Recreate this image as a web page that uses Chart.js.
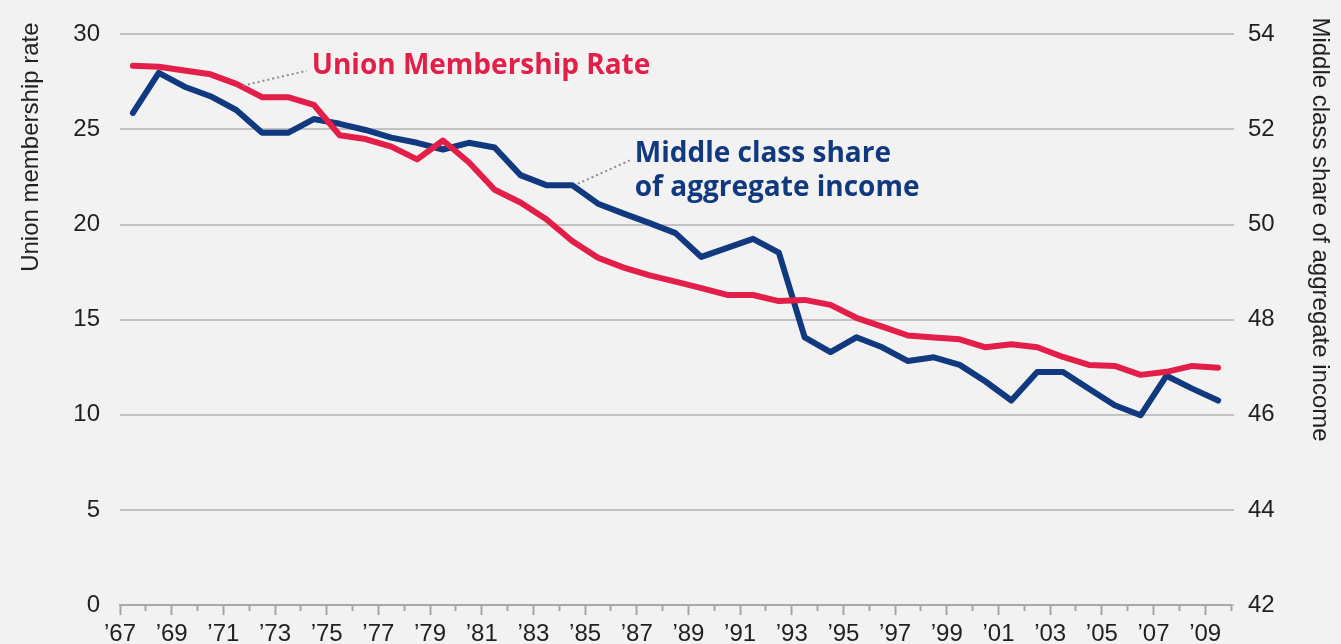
<!DOCTYPE html>
<html>
<head>
<meta charset="utf-8">
<script src="https://cdn.jsdelivr.net/npm/chart.js@4/dist/chart.umd.min.js"></script>
<style>
  html, body { margin: 0; padding: 0; background: #f2f2f2; }
  canvas { display: block; }
</style>
</head>
<body>
<canvas id="c" width="1341" height="644"></canvas>
<script>
// ---- data ----
const years = [1967, 1968, 1969, 1970, 1971, 1972, 1973, 1974, 1975, 1976,
               1977, 1978, 1979, 1980, 1981, 1982, 1983, 1984, 1985, 1986,
               1987, 1988, 1989, 1990, 1991, 1992, 1993, 1994, 1995, 1996,
               1997, 1998, 1999, 2000, 2001, 2002, 2003, 2004, 2005, 2006,
               2007, 2008, 2009];

const unionRate = [28.35, 28.3, 28.1, 27.9, 27.4, 26.7, 26.7, 26.3, 24.7, 24.5,
                   24.1, 23.43, 24.42, 23.28, 21.83, 21.16, 20.28, 19.14, 18.26, 17.74,
                   17.33, 17.0, 16.66, 16.3, 16.3, 15.98, 16.04, 15.78, 15.1, 14.64,
                   14.17, 14.07, 13.97, 13.55, 13.71, 13.55, 13.04, 12.62, 12.57, 12.1,
                   12.26, 12.57, 12.47];

const middleShare = [52.35, 53.19, 52.9, 52.7, 52.41, 51.93, 51.93, 52.22, 52.12, 51.99,
                     51.83, 51.72, 51.58, 51.72, 51.62, 51.04, 50.83, 50.83, 50.44, 50.23,
                     50.03, 49.82, 49.32, 49.51, 49.7, 49.41, 47.63, 47.32, 47.63, 47.42,
                     47.13, 47.21, 47.05, 46.70, 46.30, 46.90, 46.90, 46.55, 46.20, 45.99,
                     46.82, 46.55, 46.30];

const leftTicks = [0, 5, 10, 15, 20, 25, 30];
const rightTicks = [42, 44, 46, 48, 50, 52, 54];

const leftTitle = 'Union membership rate';
const rightTitle = 'Middle class share of aggregate income';
const unionLabel = ['Union Membership Rate'];
const middleLabel = ['Middle class share', 'of aggregate income'];

// ---- styles ----
const RED = '#e31e48';
const BLUE = '#10397f';
const TEXT = '#231f20';
const GRID = '#c2c2c2';
const AXIS_FONT = '"Liberation Sans", Arial, sans-serif';
const NOTE_FONT = '"Open Sans", "Liberation Sans", sans-serif';

// annotation anchors in data units (category index, axis value)
const annotations = [
  { text: unionLabel, color: RED, axis: 'y', from: [4.26, 27.31], to: [6.73, 28.09], dy: -5 },
  { text: middleLabel, color: BLUE, axis: 'y2', from: [17.22, 50.86], to: [19.23, 51.35], dy: -6 }
];

const bg = {
  id: 'bg',
  beforeDraw(chart) {
    const ctx = chart.ctx;
    ctx.save();
    ctx.fillStyle = '#f2f2f2';
    ctx.fillRect(0, 0, chart.width, chart.height);
    ctx.restore();
  }
};

const notes = {
  id: 'notes',
  afterDatasetsDraw(chart) {
    const ctx = chart.ctx;
    const xs = chart.scales.x;
    annotations.forEach(a => {
      const ys = chart.scales[a.axis];
      const x1 = xs.getPixelForValue(a.from[0]);
      const y1 = ys.getPixelForValue(a.from[1]);
      const x2 = xs.getPixelForValue(a.to[0]);
      const y2 = ys.getPixelForValue(a.to[1]);
      ctx.save();
      ctx.setLineDash([2, 3]);
      ctx.strokeStyle = '#8c8c8c';
      ctx.lineWidth = 2;
      ctx.beginPath();
      ctx.moveTo(x1, y1);
      ctx.lineTo(x2, y2);
      ctx.stroke();
      ctx.setLineDash([]);
      ctx.font = 'bold 28px ' + NOTE_FONT;
      ctx.fillStyle = a.color;
      ctx.textAlign = 'left';
      ctx.textBaseline = 'middle';
      a.text.forEach((t, i) => ctx.fillText(t, x2 + 5, y2 + a.dy + i * 34));
      ctx.restore();
    });
  }
};

// axis titles, top-aligned a little above the plot area
const axisTitles = {
  id: 'axisTitles',
  afterDraw(chart) {
    const ctx = chart.ctx;
    const area = chart.chartArea;
    ctx.save();
    ctx.font = '24px ' + AXIS_FONT;
    ctx.fillStyle = TEXT;
    ctx.textBaseline = 'middle';
    // left title: reads bottom-to-top, its end sits near the top
    ctx.save();
    ctx.translate(chart.scales.y.left + 31, area.top - 12);
    ctx.rotate(-Math.PI / 2);
    ctx.textAlign = 'right';
    ctx.fillText(leftTitle, 0, 0);
    ctx.restore();
    // right title: reads top-to-bottom, starting near the top
    ctx.save();
    ctx.translate(chart.scales.y2.right - 21, area.top - 17);
    ctx.rotate(Math.PI / 2);
    ctx.textAlign = 'left';
    ctx.fillText(rightTitle, 0, 0);
    ctx.restore();
    ctx.restore();
  }
};

new Chart(document.getElementById('c'), {
  type: 'line',
  data: {
    labels: years,
    datasets: [
      {
        label: 'Union Membership Rate',
        data: unionRate,
        yAxisID: 'y',
        xAxisID: 'x',
        borderColor: RED,
        borderWidth: 6,
        pointRadius: 0,
        tension: 0,
        borderJoinStyle: 'round',
        borderCapStyle: 'round',
        fill: false
      },
      {
        label: 'Middle class share of aggregate income',
        data: middleShare,
        yAxisID: 'y2',
        xAxisID: 'x',
        borderColor: BLUE,
        borderWidth: 6,
        pointRadius: 0,
        tension: 0,
        borderJoinStyle: 'round',
        borderCapStyle: 'round',
        fill: false
      }
    ]
  },
  options: {
    responsive: false,
    animation: false,
    devicePixelRatio: 1,
    layout: { padding: { top: 25, left: 0, right: 0, bottom: 0 } },
    plugins: {
      legend: { display: false },
      tooltip: { enabled: false },
      title: { display: false }
    },
    scales: {
      x: {
        type: 'category',
        display: false,
        offset: true
      },
      xt: {
        type: 'linear',
        position: 'bottom',
        min: years[0],
        max: years[years.length - 1] + 1,
        ticks: {
          stepSize: 1,
          autoSkip: false,
          maxRotation: 0,
          minRotation: 0,
          padding: 5,
          color: TEXT,
          font: { family: AXIS_FONT, size: 24 },
          callback: v => (v % 2 === 1 ? '\u2019' + String(v).slice(2) : '')
        },
        grid: {
          drawOnChartArea: false,
          drawTicks: true,
          tickLength: 10,
          tickColor: '#a6a6a6',
          tickWidth: 2,
          tickBorderDash: c => (c.tick && c.tick.value % 2 === 1 ? [] : [5, 30])
        },
        border: { display: true, color: '#a8a8a8', width: 2 },
        afterFit: s => { s.height = 39; }
      },
      y: {
        type: 'linear',
        position: 'left',
        min: leftTicks[0],
        max: leftTicks[leftTicks.length - 1],
        ticks: {
          stepSize: leftTicks[1] - leftTicks[0],
          padding: 20,
          color: TEXT,
          font: { family: AXIS_FONT, size: 24 }
        },
        grid: { color: GRID, lineWidth: 2, drawTicks: false },
        border: { display: false },
        afterFit: s => { s.width = 120; }
      },
      y2: {
        type: 'linear',
        position: 'right',
        min: rightTicks[0],
        max: rightTicks[rightTicks.length - 1],
        ticks: {
          stepSize: rightTicks[1] - rightTicks[0],
          padding: 14,
          color: TEXT,
          font: { family: AXIS_FONT, size: 24 }
        },
        grid: { drawOnChartArea: false, drawTicks: true, tickLength: 3, color: GRID, lineWidth: 2 },
        border: { display: false },
        afterFit: s => { s.width = 110; }
      }
    }
  },
  plugins: [bg, notes, axisTitles]
});
</script>
</body>
</html>
